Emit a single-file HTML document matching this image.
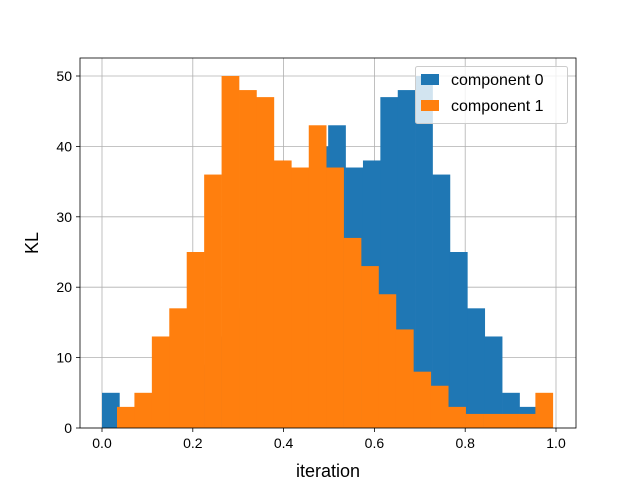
<!DOCTYPE html>
<html><head><meta charset="utf-8"><style>
body{margin:0;background:#fff;}
svg{font-family:"Liberation Sans","DejaVu Sans",sans-serif;}
</style></head><body>
<svg id="c" width="640" height="480"></svg>
<script>
const blueCounts=[5,1,2,4,6,9,13,17,20,24,30,33,40,43,37,38,47,48,50,36,25,17,13,5,3];
const blueStart=0.0, blueEnd=0.958;
const orangeCounts=[3,5,13,17,25,36,50,48,47,38,37,43,37,27,23,19,14,8,6,3,2,2,2,2,5];
const orangeStart=0.033, orangeEnd=0.993;
const xTicks=[0,0.2,0.4,0.6,0.8,1.0];
const xTickLabels=["0.0","0.2","0.4","0.6","0.8","1.0"];
const yTicks=[0,10,20,30,40,50];
const seriesNames=["component 0","component 1"];

const L=80,R=576,T=58,B=428;
const X=v=>102+v*454;
const Y=v=>428-v*7.04;
const svg=document.getElementById('c');
const NS='http://www.w3.org/2000/svg';
function mk(t,a,p){const e=document.createElementNS(NS,t);for(const k in a)e.setAttribute(k,a[k]);(p||svg).appendChild(e);return e;}

// grid
xTicks.forEach(v=>{const g=mk('line',{x1:X(v),x2:X(v),y1:T,y2:B,stroke:'#b0b0b0','stroke-width':0.8});

});
yTicks.forEach(v=>{const g=mk('line',{x1:L,x2:R,y1:Y(v),y2:Y(v),stroke:'#b0b0b0','stroke-width':0.8});

});

function hist(counts,s,e,color,name){
  const w=(e-s)/counts.length;
  counts.forEach((c,i)=>{
    const x0=X(s+i*w),x1=X(s+(i+1)*w);
    const r=mk('rect',{x:x0,y:Y(c),width:x1-x0+0.3,height:Y(0)-Y(c),fill:color});
    
    
  });
}
hist(blueCounts,blueStart,blueEnd,'#1f77b4','component-0');
hist(orangeCounts,orangeStart,orangeEnd,'#ff7f0e','component-1');

// frame
const f=mk('rect',{x:L,y:T,width:R-L,height:B-T,fill:'none',stroke:'#000','stroke-width':0.8});



xTicks.forEach((v,i)=>{
  mk('line',{x1:X(v),x2:X(v),y1:B,y2:B+4,stroke:'#000','stroke-width':0.8});
  const t=mk('text',{x:X(v),y:B+20,'font-size':14,'text-anchor':'middle'});t.textContent=xTickLabels[i];
  
  
});
yTicks.forEach(v=>{
  mk('line',{x1:L-4,x2:L,y1:Y(v),y2:Y(v),stroke:'#000','stroke-width':0.8});
  const t=mk('text',{x:L-8,y:Y(v)+5,'font-size':14,'text-anchor':'end'});t.textContent=v;
  
  
});
const xt=mk('text',{x:328,y:477,'font-size':18,'text-anchor':'middle'});xt.textContent='iteration';


const yt=mk('text',{x:38,y:243,'font-size':18,'text-anchor':'middle',transform:'rotate(-90 38 243)'});yt.textContent='KL';



// legend
const lg=mk('g',{});


mk('rect',{x:415.5,y:66.5,width:152,height:57,fill:'#fff','fill-opacity':0.8,stroke:'#ccc',rx:2},lg);
['#1f77b4','#ff7f0e'].forEach((c,i)=>{
  const e=mk('g',{},lg);
  
  
  mk('rect',{x:421,y:74+i*26,width:18,height:11,fill:c},e);
  const t=mk('text',{x:451,y:85+i*26,'font-size':16},e);t.textContent=seriesNames[i];
});
</script>
</body></html>
